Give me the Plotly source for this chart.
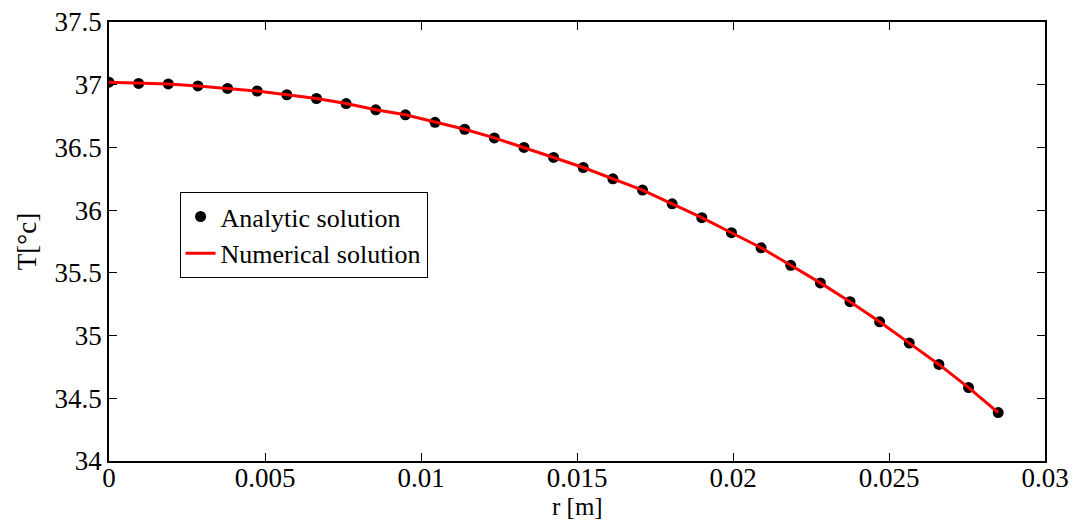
import plotly.graph_objects as go

# Data
r_values = [0.0, 0.00095, 0.0019, 0.00285, 0.0038, 0.00475, 0.0057, 0.00665,
            0.0076, 0.00855, 0.0095, 0.01045, 0.0114, 0.01235, 0.0133, 0.01425,
            0.0152, 0.01615, 0.0171, 0.01805, 0.019, 0.01995, 0.0209, 0.02185,
            0.0228, 0.02375, 0.0247, 0.02565, 0.0266, 0.02755, 0.0285]
T_analytic = [37.02, 37.01, 37.006, 36.99, 36.97, 36.95, 36.92, 36.89,
              36.85, 36.80, 36.76, 36.70, 36.645, 36.576, 36.50, 36.42,
              36.34, 36.25, 36.16, 36.05, 35.94, 35.82, 35.70, 35.56,
              35.42, 35.27, 35.11, 34.94, 34.77, 34.585, 34.386]
T_numerical = list(T_analytic)

x_ticks = [0, 0.005, 0.01, 0.015, 0.02, 0.025, 0.03]
x_ticktext = ["0", "0.005", "0.01", "0.015", "0.02", "0.025", "0.03"]
y_ticks = [34, 34.5, 35, 35.5, 36, 36.5, 37, 37.5]
y_ticktext = ["34", "34.5", "35", "35.5", "36", "36.5", "37", "37.5"]

FONT = "Liberation Serif"
FS = 27

fig = go.Figure()
fig.add_trace(go.Scatter(
    x=r_values, y=T_analytic, mode="markers", name="Analytic solution",
    marker=dict(color="black", size=11),
))
fig.add_trace(go.Scatter(
    x=r_values, y=T_numerical, mode="lines", name="Numerical solution",
    line=dict(color="red", width=3),
))

axis_common = dict(
    showline=True, linecolor="black", linewidth=1.5, mirror="ticks",
    ticks="inside", ticklen=8, tickcolor="black", tickwidth=1,
    showgrid=False, zeroline=False, automargin=False,
    tickfont=dict(family=FONT, size=FS, color="black"),
)

fig.update_xaxes(range=[0, 0.03], tickvals=x_ticks, ticktext=x_ticktext,
                 ticklabelstandoff=-8, **axis_common)
fig.update_yaxes(range=[34, 37.5], tickvals=y_ticks, ticktext=y_ticktext, **axis_common)

fig.add_annotation(
    text="r [m]", xref="paper", yref="paper", x=0.5, y=-0.104,
    xanchor="center", yanchor="middle", showarrow=False,
    font=dict(family=FONT, size=25, color="black"),
)
fig.add_annotation(
    text="T[°c]", xref="paper", yref="paper", x=-0.088, y=0.5,
    xanchor="center", yanchor="middle", showarrow=False, textangle=-90,
    font=dict(family=FONT, size=FS, color="black"),
)

fig.update_layout(
    width=1077, height=520,
    margin=dict(l=109, r=32, t=22, b=59),
    paper_bgcolor="white", plot_bgcolor="white",
    font=dict(family=FONT, size=FS, color="black"),
    legend=dict(
        x=0.0754, y=0.6125, xanchor="left", yanchor="top",
        bgcolor="white", bordercolor="black", borderwidth=1,
        font=dict(family=FONT, size=26, color="black"),
        tracegroupgap=0, itemwidth=30,
    ),
)

fig.write_html(
    "out.html",
    config={"displayModeBar": False},
    post_script="document.body.style.margin='0';document.body.style.overflow='hidden';",
)
